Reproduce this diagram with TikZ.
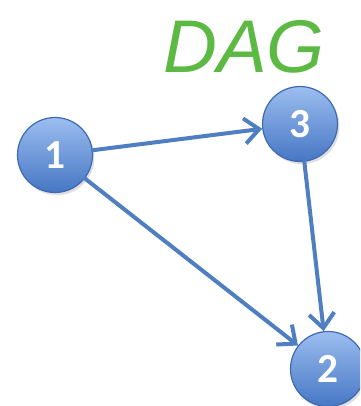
\documentclass[tikz,border=0pt]{standalone}
\usepackage{fontspec}
\setsansfont{Carlito}
\newfontfamily\handfont{Liberation Sans}
\usetikzlibrary{arrows.meta,shadows,shadings}
\definecolor{edgeblue}{HTML}{4F7FC0}
\definecolor{nodetop}{HTML}{9CBDF0}
\definecolor{nodebot}{HTML}{4677C4}
\definecolor{noderim}{HTML}{3E6BB0}
\definecolor{inkgreen}{HTML}{5CB944}
\tikzset{
  vertex/.style={circle, minimum size=75*0.75pt, inner sep=0pt,
    draw=noderim, line width=0.9pt,
    top color=nodetop, bottom color=nodebot,
    drop shadow={opacity=0.25, shadow xshift=1.5pt, shadow yshift=-2pt},
    text=white, font=\sffamily\bfseries\fontsize{31}{31}\selectfont},
  edge/.style={draw=edgeblue, line width=3pt, line cap=round,
    -{Straight Barb[length=11pt, width=19pt, line width=3pt]}},
  title/.style={text=inkgreen, font=\handfont\fontsize{56}{56}\selectfont}
}
\begin{document}
\begin{tikzpicture}[x=0.75pt, y=-0.75pt]
  \useasboundingbox (0,0) rectangle (360,406);
  \clip (0,0) rectangle (360,406);
  \node[title] (dag) at (244,47) {\itshape DAG};
  \node[vertex] (n1) at (55,155) {1};
  \node[vertex] (n3) at (300,124) {3};
  \node[vertex] (n2) at (328,369) {2};
  \draw[edge] (n1) -- (n3);
  \draw[edge] (n1) -- (n2);
  \draw[edge] (n3) -- (n2);
\end{tikzpicture}
\end{document}
